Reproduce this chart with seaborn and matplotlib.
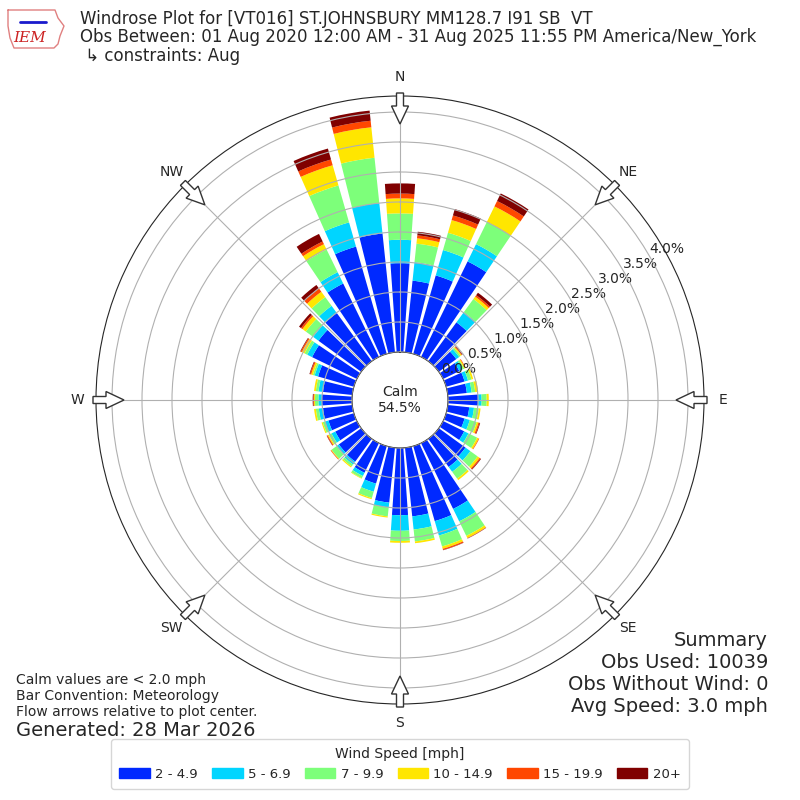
import numpy as np
import matplotlib
matplotlib.use("Agg")
import matplotlib.pyplot as plt
from matplotlib.patches import FancyArrow, Patch
from matplotlib.lines import Line2D
import seaborn as sns

# direction of each bar (deg, meteorological) and cumulative percent at the top of each speed bin
directions = [0, 10, 20, 30, 40, 50, 60, 70, 80, 90, 100, 110, 120, 130, 140, 150, 160, 170,
              180, 190, 200, 210, 220, 230, 240, 250, 260, 270, 280, 290, 300, 310, 320, 330, 340, 350]
cum_2 = [1.48, 1.20, 1.36, 1.77, 0.80, 0.36, 0.30, 0.32, 0.32, 0.505, 0.36, 0.32, 0.39, 0.55, 0.58, 1.22, 1.30, 1.15,
         1.12, 0.92, 0.65, 0.55, 0.47, 0.46, 0.40, 0.44, 0.49, 0.505, 0.49, 0.62, 0.83, 0.88, 0.99, 1.36, 1.86, 1.99]
cum_5 = [1.87, 1.51, 1.80, 2.09, 1.01, 0.42, 0.36, 0.38, 0.40, 0.56, 0.44, 0.41, 0.47, 0.65, 0.68, 1.45, 1.55, 1.37,
         1.38, 1.00, 0.79, 0.61, 0.53, 0.51, 0.47, 0.50, 0.56, 0.56, 0.565, 0.68, 0.92, 0.99, 1.14, 1.57, 2.28, 2.50]
cum_7 = [2.31, 1.82, 2.10, 2.50, 1.28, 0.45, 0.39, 0.44, 0.46, 0.645, 0.52, 0.53, 0.63, 0.80, 0.82, 1.72, 1.74, 1.57,
         1.55, 1.15, 0.90, 0.65, 0.57, 0.61, 0.52, 0.54, 0.61, 0.617, 0.61, 0.71, 0.97, 1.14, 1.32, 1.99, 2.92, 3.26]
cum_10 = [2.56, 1.91, 2.32, 2.79, 1.33, 0.47, 0.41, 0.47, 0.51, 0.68, 0.55, 0.56, 0.66, 0.84, 0.85, 1.76, 1.78, 1.60,
          1.58, 1.17, 0.92, 0.66, 0.59, 0.62, 0.54, 0.56, 0.64, 0.633, 0.64, 0.74, 1.02, 1.21, 1.43, 2.09, 3.27, 3.77]
cum_15 = [2.64, 1.96, 2.40, 2.89, 1.36, 0.48, 0.42, 0.47, 0.51, 0.68, 0.55, 0.58, 0.67, 0.86, 0.85, 1.765, 1.80, 1.60,
          1.58, 1.17, 0.92, 0.66, 0.59, 0.63, 0.555, 0.56, 0.64, 0.645, 0.64, 0.76, 1.04, 1.24, 1.50, 2.14, 3.37, 3.88]
cum_20 = [2.81, 2.02, 2.51, 3.03, 1.41, 0.49, 0.42, 0.47, 0.51, 0.68, 0.55, 0.59, 0.67, 0.87, 0.85, 1.77, 1.805, 1.60,
          1.58, 1.17, 0.92, 0.66, 0.59, 0.63, 0.56, 0.56, 0.64, 0.655, 0.64, 0.77, 1.05, 1.28, 1.57, 2.28, 3.56, 4.05]
speed_labels = ["2 - 4.9", "5 - 6.9", "7 - 9.9", "10 - 14.9", "15 - 19.9", "20+"]
ring_values = [0.0, 0.5, 1.0, 1.5, 2.0, 2.5, 3.0, 3.5, 4.0]
compass = ["N", "NE", "E", "SE", "S", "SW", "W", "NW"]
calm_pct = 54.5

sns.set_style("white")
plt.rcParams["font.family"] = ["DejaVu Sans"]
colors = sns.color_palette(list(plt.get_cmap("jet")(np.linspace(0, 1, 7)[1:])))

fig = plt.figure(figsize=(8, 8), dpi=100)
ax = fig.add_axes([0.12, 0.12, 0.76, 0.76], projection="polar")
ax.set_theta_zero_location("N")
ax.set_theta_direction(-1)

theta = np.deg2rad(directions)
width = np.deg2rad(10) * 0.8
layers = [cum_2, cum_5, cum_7, cum_10, cum_15, cum_20]
prev = np.zeros(len(directions))
for vals, col, lab in zip(layers, colors, speed_labels):
    vals = np.array(vals)
    ax.bar(theta, vals - prev, width=width, bottom=prev, color=col, linewidth=0, label=lab, zorder=1)
    prev = vals

ax.set_rorigin(-0.8)
ax.set_ylim(0, 4.2667)
ax.set_yticks(ring_values)
ax.set_yticklabels([f"{v:.1f}%" for v in ring_values], fontsize=10)
ax.set_rlabel_position(60)
ax.set_xticks(np.deg2rad(np.arange(0, 360, 45)))
ax.set_xticklabels(compass, fontsize=10)
ax.tick_params(axis="x", pad=3)
ax.grid(True, color="#b0b0b0", linewidth=0.8)
ax.yaxis.set_zorder(4)
ax.xaxis.set_zorder(4)
ax.text(0.5, 0.5, f"Calm\n{calm_pct}%", transform=ax.transAxes, ha="center", va="center", fontsize=10)

# hollow flow arrows on the rim
for d in np.arange(0, 360, 45):
    s, c = np.sin(np.deg2rad(d)), np.cos(np.deg2rad(d))
    r0, r1 = 307 / 800, 276 / 800
    arr = FancyArrow(0.5 + r0 * s, 0.5 + r0 * c, (r1 - r0) * s, (r1 - r0) * c,
                     width=7 / 800, head_width=17 / 800, head_length=18 / 800,
                     length_includes_head=True, fc="white", ec="#333333", lw=1,
                     transform=fig.transFigure, zorder=5)
    fig.add_artist(arr)

# logo
outline = np.array([[8, 10], [55, 10], [58, 18], [64, 26], [60, 36], [58, 44], [54, 48], [14, 48], [10, 38], [8, 26], [8, 10]])
fig.add_artist(Line2D(outline[:, 0] / 800, 1 - outline[:, 1] / 800, color="#e08080", lw=1, transform=fig.transFigure))
fig.add_artist(Line2D([20 / 800, 46 / 800], [1 - 22 / 800, 1 - 22 / 800], color="#1a1acc", lw=2, transform=fig.transFigure))
fig.text(30 / 800, 1 - 38 / 800, "IEM", family="DejaVu Serif", style="italic", color="#cc2222",
         fontsize=11, ha="center", va="center")

fig.text(80 / 800, 1 - 19 / 800, "Windrose Plot for [VT016] ST.JOHNSBURY MM128.7 I91 SB  VT", fontsize=12, va="center")
fig.text(80 / 800, 1 - 37 / 800, "Obs Between: 01 Aug 2020 12:00 AM - 31 Aug 2025 11:55 PM America/New_York", fontsize=12, va="center")
fig.text(80 / 800, 1 - 56 / 800, " \u21b3 constraints: Aug", fontsize=12, va="center")

for i, line in enumerate(["Calm values are < 2.0 mph", "Bar Convention: Meteorology", "Flow arrows relative to plot center."]):
    fig.text(16 / 800, 1 - (680 + 16 * i) / 800, line, fontsize=10, va="center")
fig.text(16 / 800, 1 - 730 / 800, "Generated: 28 Mar 2026", fontsize=14, va="center")

for i, line in enumerate(["Summary", "Obs Used: 10039", "Obs Without Wind: 0", "Avg Speed: 3.0 mph"]):
    fig.text(768 / 800, 1 - (640 + 22 * i) / 800, line, fontsize=14, ha="right", va="center")

handles = [Patch(color=c) for c in colors]
fig.legend(handles, speed_labels, loc="lower center", bbox_to_anchor=(0.5, 0.006), ncol=6,
           title="Wind Speed [mph]", fontsize=9.5, title_fontsize=10, borderpad=0.6,
           handlelength=2.3, handletextpad=0.4, columnspacing=1.1)

fig.savefig("out.png", dpi=100)
